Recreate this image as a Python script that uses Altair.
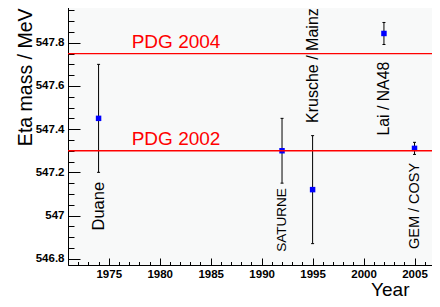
import altair as alt
import pandas as pd

# --- data ---
years = [1974, 1992, 1995, 2002, 2005]
mass = [547.45, 547.30, 547.12, 547.843, 547.311]
err = [0.25, 0.15, 0.25, 0.051, 0.028]
names = ["Duane", "SATURNE", "Krusche / Mainz", "Lai / NA48", "GEM / COSY"]
label_top = [547.156, 547.126, 547.96, 547.712, 547.244]

pdg_values = [547.75, 547.30]
pdg_names = ["PDG 2004", "PDG 2002"]
pdg_label_year = [1977.25, 1977.25]

x_major = [1975, 1980, 1985, 1990, 1995, 2000, 2005]
x_minor = list(range(1971, 2008))
y_major = [546.8, 547.0, 547.2, 547.4, 547.6, 547.8]
y_minor = [round(546.8 + 0.05 * i, 2) for i in range(24)]

X_DOMAIN = [1971, 2007.5]
Y_DOMAIN = [546.771, 547.998]

W, H = 372, 265
FONT = "Liberation Sans"

df = pd.DataFrame({"year": years, "mass": mass, "err": err, "name": names, "ltop": label_top})
df["lo"] = df["mass"] - df["err"]
df["hi"] = df["mass"] + df["err"]
pdg = pd.DataFrame({"value": pdg_values, "name": pdg_names, "lx": pdg_label_year})

xs = alt.Scale(domain=X_DOMAIN, nice=False, zero=False)
ys = alt.Scale(domain=Y_DOMAIN, nice=False, zero=False)

base = alt.Chart(df)

# main axes (labels, titles, domain lines)
x_main = alt.Axis(orient="bottom", values=x_major, ticks=False, tickSize=0, grid=False, format="d",
                  labelFont=FONT, labelFontWeight="bold", labelFontSize=11.5, labelColor="black",
                  labelPadding=3, domainColor="black", domainWidth=1,
                  title="Year", titleFont=FONT, titleFontSize=19, titleFontWeight="normal",
                  titleColor="black", titleX=341, titleY=30, titleAlign="right",
                  titleBaseline="alphabetic")
y_main = alt.Axis(orient="left", values=y_major, ticks=False, tickSize=0, grid=False, format="~g",
                  labelFont=FONT, labelFontWeight="bold", labelFontSize=11.5, labelColor="black",
                  labelPadding=4, domainColor="black", domainWidth=1,
                  title="Eta mass / MeV", titleFont=FONT, titleFontSize=19.5,
                  titleFontWeight="normal", titleColor="black", titleAngle=270,
                  titleAlign="right", titleBaseline="alphabetic", titleX=-37, titleY=8)

bars = base.mark_rule(color="black", strokeWidth=1).encode(
    x=alt.X("year:Q", scale=xs, axis=x_main),
    y=alt.Y("lo:Q", scale=ys, axis=y_main),
    y2="hi:Q",
)

# inward major ticks
x_maj_ticks = alt.Axis(orient="top", offset=-H, values=x_major, ticks=True, tickSize=7,
                       tickColor="black", labels=False, domain=False, grid=False, title=None)
y_maj_ticks = alt.Axis(orient="right", offset=-W, values=y_major, ticks=True, tickSize=12,
                       tickColor="black", labels=False, domain=False, grid=False, title=None)
points = base.mark_square(color="#0000ff", size=30, opacity=1).encode(
    x=alt.X("year:Q", scale=xs, axis=x_maj_ticks),
    y=alt.Y("mass:Q", scale=ys, axis=y_maj_ticks),
)

# inward minor ticks
x_min_ticks = alt.Axis(orient="top", offset=-H, values=x_minor, ticks=True, tickSize=3.5,
                       tickColor="black", labels=False, domain=False, grid=False, title=None)
y_min_ticks = alt.Axis(orient="right", offset=-W, values=y_minor, ticks=True, tickSize=6,
                       tickColor="black", labels=False, domain=False, grid=False, title=None)
caps_lo = base.mark_tick(orient="horizontal", color="black", size=3, thickness=1, opacity=1).encode(
    x=alt.X("year:Q", scale=xs, axis=x_min_ticks),
    y=alt.Y("lo:Q", scale=ys, axis=y_min_ticks),
)
caps_hi = base.mark_tick(orient="horizontal", color="black", size=3, thickness=1, opacity=1).encode(
    x=alt.X("year:Q", scale=xs, axis=None),
    y=alt.Y("hi:Q", scale=ys, axis=None),
)

# PDG lines and labels
pdg_lines = alt.Chart(pdg).mark_rule(color="#ff0000", strokeWidth=1.3).encode(
    y=alt.Y("value:Q", scale=ys, axis=None),
)
pdg_text = alt.Chart(pdg).mark_text(color="#ff0000", font=FONT, fontSize=19, align="left",
                                    baseline="alphabetic", dy=-6).encode(
    x=alt.X("lx:Q", scale=xs, axis=None),
    y=alt.Y("value:Q", scale=ys, axis=None),
    text="name:N",
)

label_sizes = {"Duane": 16.5, "SATURNE": 13.5, "Krusche / Mainz": 16,
               "Lai / NA48": 15.8, "GEM / COSY": 14.5}
label_layers = []
for nm, fs in label_sizes.items():
    label_layers.append(
        base.transform_filter(alt.datum.name == nm).mark_text(
            font=FONT, fontSize=fs, color="black", angle=270, align="right", baseline="middle"
        ).encode(
            x=alt.X("year:Q", scale=xs, axis=None),
            y=alt.Y("ltop:Q", scale=ys, axis=None),
            text="name:N",
        )
    )

chart = alt.layer(bars, points, caps_lo, caps_hi, pdg_lines, pdg_text, *label_layers).resolve_axis(
    x="independent", y="independent"
).properties(
    width=W, height=H,
    autosize=alt.AutoSizeParams(type="none"),
    padding={"top": -8, "left": 60, "right": -8, "bottom": 34},
    background="white",
).configure_view(fill="#f8f9f9", stroke=None)

chart.save("out.html", embed_options={"renderer": "svg", "actions": False})
